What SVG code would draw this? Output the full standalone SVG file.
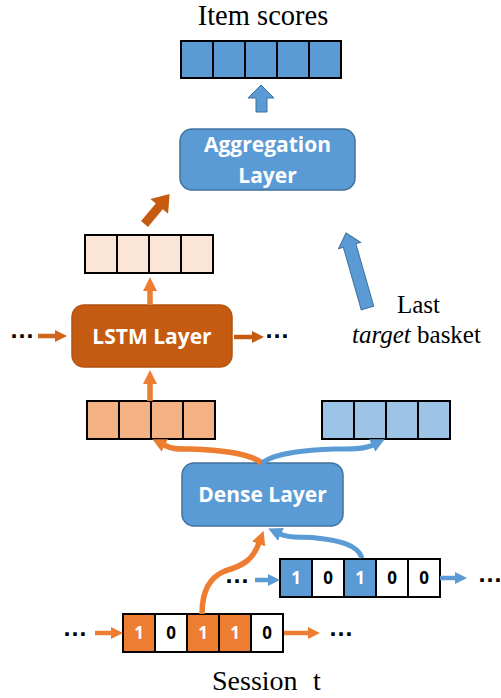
<svg xmlns="http://www.w3.org/2000/svg" width="501" height="698" viewBox="0 0 501 698">
  <style>
    .serif { font-family: "Liberation Serif", "Times New Roman", serif; fill: #000; }
    .label { font-family: "Open Sans", "Noto Sans", sans-serif; font-weight: 700; font-size: 21px; fill: #fff; text-anchor: middle; }
    .bit { font-family: "Open Sans", "Noto Sans", sans-serif; font-weight: 700; font-size: 17px; text-anchor: middle; }
    .bit1 { fill: #fff; }
    .bit0 { fill: #000; }
    .dots { font-family: "Liberation Sans", Arial, sans-serif; font-weight: 700; font-size: 25px; fill: #000; text-anchor: middle; }
    .cell { stroke: #000; stroke-width: 2; }
    .box-blue { fill: #5B9BD5; stroke: #41719C; stroke-width: 1.5; }
    .box-rust { fill: #C55A11; stroke: #B35210; stroke-width: 1.5; }
    .o-line { fill: none; stroke: #ED7D31; stroke-width: 5.5; }
    .b-line { fill: none; stroke: #5B9BD5; stroke-width: 5; }
  </style>
  <defs>
    <marker id="headOrange" viewBox="0 0 14 14" refX="1" refY="7" markerWidth="14" markerHeight="15" orient="auto" markerUnits="userSpaceOnUse">
      <path d="M0,0 L14,7 L0,14 z" fill="#ED7D31"/>
    </marker>
    <marker id="headBlue" viewBox="0 0 14 14" refX="1" refY="7" markerWidth="14" markerHeight="14" orient="auto" markerUnits="userSpaceOnUse">
      <path d="M0,0 L14,7 L0,14 z" fill="#5B9BD5"/>
    </marker>
    <marker id="headRust" viewBox="0 0 12 12" refX="1" refY="6" markerWidth="12" markerHeight="12" orient="auto" markerUnits="userSpaceOnUse">
      <path d="M0,0 L12,6 L0,12 z" fill="#C55A11"/>
    </marker>
    <marker id="headRustL" viewBox="0 0 12 12" refX="1" refY="6" markerWidth="12" markerHeight="12" orient="auto" markerUnits="userSpaceOnUse">
      <path d="M0,0 L12,6 L0,12 z" fill="#D0651C"/>
    </marker>
    <marker id="headOrangeS" viewBox="0 0 12 12" refX="1" refY="6" markerWidth="12" markerHeight="12" orient="auto" markerUnits="userSpaceOnUse">
      <path d="M0,0 L12,6 L0,12 z" fill="#ED7D31"/>
    </marker>
    <marker id="headBlueS" viewBox="0 0 12 12" refX="1" refY="6" markerWidth="12" markerHeight="12" orient="auto" markerUnits="userSpaceOnUse">
      <path d="M0,0 L12,6 L0,12 z" fill="#5B9BD5"/>
    </marker>
  </defs>

  <rect width="501" height="698" fill="#fff"/>

  <!-- output: item scores -->
  <g id="item-scores">
    <text class="serif" x="263" y="25" font-size="28.5" text-anchor="middle">Item scores</text>
    <g class="cell" fill="#5B9BD5">
      <rect x="181" y="41" width="32" height="37"/>
      <rect x="213" y="41" width="32" height="37"/>
      <rect x="245" y="41" width="32" height="37"/>
      <rect x="277" y="41" width="32" height="37"/>
      <rect x="309" y="41" width="32" height="37"/>
    </g>
  </g>

  <g id="aggregation-layer">
    <rect class="box-blue" x="180" y="129" width="175" height="61" rx="12"/>
    <text class="label" x="267.5" y="152">Aggregation</text>
    <text class="label" x="267.5" y="183">Layer</text>
  </g>

  <g id="lstm-output">
    <g class="cell" fill="#FBE5D6">
      <rect x="85" y="235" width="32" height="38"/>
      <rect x="117" y="235" width="32" height="38"/>
      <rect x="149" y="235" width="32" height="38"/>
      <rect x="181" y="235" width="32" height="38"/>
    </g>
  </g>

  <g id="lstm-layer">
    <rect class="box-rust" x="72" y="305" width="160" height="62" rx="12"/>
    <text class="label" x="152" y="344">LSTM Layer</text>
  </g>

  <g id="item-embedding">
    <g class="cell" fill="#F4B183">
      <rect x="87" y="401" width="32" height="38"/>
      <rect x="119" y="401" width="32" height="38"/>
      <rect x="151" y="401" width="32" height="38"/>
      <rect x="183" y="401" width="32" height="38"/>
    </g>
  </g>

  <g id="target-embedding">
    <g class="cell" fill="#9DC3E6">
      <rect x="322" y="401" width="32" height="38"/>
      <rect x="354" y="401" width="32" height="38"/>
      <rect x="386" y="401" width="32" height="38"/>
      <rect x="418" y="401" width="32" height="38"/>
    </g>
  </g>

  <g id="dense-layer">
    <rect class="box-blue" x="182" y="463" width="161" height="63" rx="12"/>
    <text class="label" x="262.5" y="502">Dense Layer</text>
  </g>

  <g id="target-basket">
    <rect class="cell" x="280" y="559" width="32" height="38" fill="#5B9BD5"/>
    <rect class="cell" x="312" y="559" width="32" height="38" fill="#fff"/>
    <rect class="cell" x="344" y="559" width="32" height="38" fill="#5B9BD5"/>
    <rect class="cell" x="376" y="559" width="32" height="38" fill="#fff"/>
    <rect class="cell" x="408" y="559" width="32" height="38" fill="#fff"/>
    <text class="bit bit1" x="296" y="584">1</text>
    <text class="bit bit0" x="328" y="584">0</text>
    <text class="bit bit1" x="360" y="584">1</text>
    <text class="bit bit0" x="392" y="584">0</text>
    <text class="bit bit0" x="424" y="584">0</text>
  </g>

  <g id="session-basket">
    <rect class="cell" x="123" y="614" width="32" height="38" fill="#ED7D31"/>
    <rect class="cell" x="155" y="614" width="32" height="38" fill="#fff"/>
    <rect class="cell" x="187" y="614" width="32" height="38" fill="#ED7D31"/>
    <rect class="cell" x="219" y="614" width="32" height="38" fill="#ED7D31"/>
    <rect class="cell" x="251" y="614" width="32" height="38" fill="#fff"/>
    <text class="bit bit1" x="139" y="639">1</text>
    <text class="bit bit0" x="171" y="639">0</text>
    <text class="bit bit1" x="203" y="639">1</text>
    <text class="bit bit1" x="235" y="639">1</text>
    <text class="bit bit0" x="267" y="639">0</text>
    <text class="serif" x="212" y="690" font-size="28">Session</text>
    <text class="serif" x="313" y="690" font-size="28">t</text>
  </g>

  <g id="last-target-label">
    <text class="serif" x="397" y="313" font-size="25">Last</text>
    <text class="serif" x="352" y="343" font-size="25"><tspan font-style="italic">target</tspan> basket</text>
  </g>

  <!-- continuation dots -->
  <g id="ellipses">
    <text class="dots" x="22" y="338">…</text>
    <text class="dots" x="277" y="338">…</text>
    <text class="dots" x="237" y="583">…</text>
    <text class="dots" x="490" y="582">…</text>
    <text class="dots" x="75" y="636">…</text>
    <text class="dots" x="341" y="636">…</text>
  </g>

  <g id="connectors">
    <!-- block arrows -->
    <polygon points="261,85 248,98 256,98 256,112 267,112 267,98 274,98" fill="#5B9BD5" stroke="#41719C" stroke-width="1"/>
    <polygon transform="translate(144.5,224) rotate(-50)" points="0,-4.5 23,-4.5 23,-11.5 39,0 23,11.5 23,4.5 0,4.5" fill="#C55A11"/>
    <polygon transform="translate(367.5,308) rotate(-106)" points="0,-6.5 65,-6.5 65,-11.5 78,0 65,11.5 65,6.5 0,6.5" fill="#5B9BD5" stroke="#41719C" stroke-width="1"/>

    <!-- recurrent and input arrows -->
    <line x1="150" y1="305" x2="150" y2="290" class="o-line" marker-end="url(#headOrange)"/>
    <line x1="150" y1="401" x2="150" y2="383" class="o-line" marker-end="url(#headOrange)"/>
    <line x1="38" y1="336" x2="56" y2="336" stroke="#D0651C" stroke-width="4.5" marker-end="url(#headRustL)"/>
    <line x1="234" y1="337" x2="253" y2="337" stroke="#C55A11" stroke-width="4.5" marker-end="url(#headRust)"/>

    <line x1="255" y1="580" x2="269" y2="580" stroke="#5B9BD5" stroke-width="4.5" marker-end="url(#headBlueS)"/>
    <line x1="440" y1="578" x2="456" y2="578" stroke="#5B9BD5" stroke-width="4.5" marker-end="url(#headBlueS)"/>
    <line x1="95" y1="633" x2="112" y2="633" stroke="#ED7D31" stroke-width="4.5" marker-end="url(#headOrangeS)"/>
    <line x1="284" y1="633" x2="309" y2="633" stroke="#ED7D31" stroke-width="4.5" marker-end="url(#headOrangeS)"/>

    <!-- dense layer outputs -->
    <path class="o-line" d="M262,463 C248,452 215,450 190,449 C180,448.7 174,450 164,445" marker-end="url(#headOrange)"/>
    <path class="b-line" d="M262,463 C276,452 310,450 335,449 C348,448.7 363,450 373,445" marker-end="url(#headBlue)"/>

    <!-- dense layer inputs -->
    <path class="b-line" d="M362,558 C358,545 340,540 312,537.5 C300,536.5 291,539 280,534" marker-end="url(#headBlue)"/>
    <path class="o-line" d="M202,614 C202,595 207,578 225,571 C245,565 253,559 259,543" marker-end="url(#headOrange)"/>
  </g>
</svg>
